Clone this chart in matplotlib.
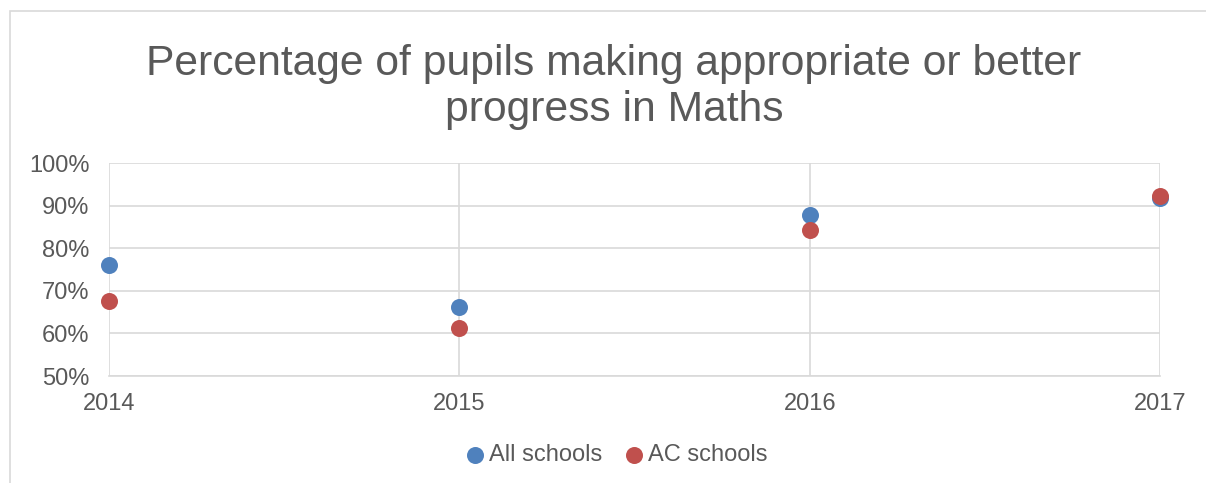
import matplotlib.pyplot as plt
from matplotlib.patches import Rectangle
from matplotlib.ticker import FuncFormatter

plt.rcParams['font.family'] = ['Liberation Sans', 'DejaVu Sans']

years = [2014, 2015, 2016, 2017]
all_schools = [76.0, 66.1, 87.7, 91.7]
ac_schools = [67.6, 61.2, 84.3, 92.3]

grey_text = '#595959'
grid_col = '#d9d9d9'

fig = plt.figure(figsize=(12.06, 4.83), dpi=100)
ax = fig.add_axes([0.0904, 0.2215, 0.8715, 0.441])

# outer chart frame (top and left edges visible)
fig.patches.append(Rectangle((10 / 1206, -0.1), 1.2, 1.1 - 11 / 483,
                             transform=fig.transFigure, fill=False,
                             edgecolor=grid_col, linewidth=1.2))

ax.scatter(years, all_schools, s=150, color='#4f81bd', label='All schools',
           zorder=3, clip_on=False, linewidths=0)
ax.scatter(years, ac_schools, s=150, color='#c0504d', label='AC schools',
           zorder=4, clip_on=False, linewidths=0)

ax.set_xlim(2014, 2017)
ax.set_ylim(50, 100)
ax.set_xticks(years)
ax.set_yticks(range(50, 101, 10))
ax.yaxis.set_major_formatter(FuncFormatter(lambda v, p: f'{int(v)}%'))

ax.grid(True, color=grid_col, linewidth=1.2)
ax.set_axisbelow(True)
for side in ['top', 'right', 'left']:
    ax.spines[side].set_visible(False)
ax.spines['bottom'].set_color(grid_col)
ax.spines['bottom'].set_linewidth(1.2)
ax.tick_params(axis='both', length=0, labelsize=17, labelcolor=grey_text)
ax.tick_params(axis='x', pad=12)
ax.tick_params(axis='y', pad=14)

fig.text(614 / 1206, 1 - 87 / 483, 'Percentage of pupils making appropriate or better\nprogress in Maths',
         ha='center', va='center', fontsize=30.7, color=grey_text, linespacing=1.18)

fig.legend(loc='center', bbox_to_anchor=(617 / 1206, 1 - 455 / 483), ncol=2, frameon=False,
           fontsize=17, labelcolor=grey_text, handlelength=0.7, handletextpad=0.25,
           columnspacing=1.0, markerscale=1.0)

fig.savefig('out.png', dpi=100)
